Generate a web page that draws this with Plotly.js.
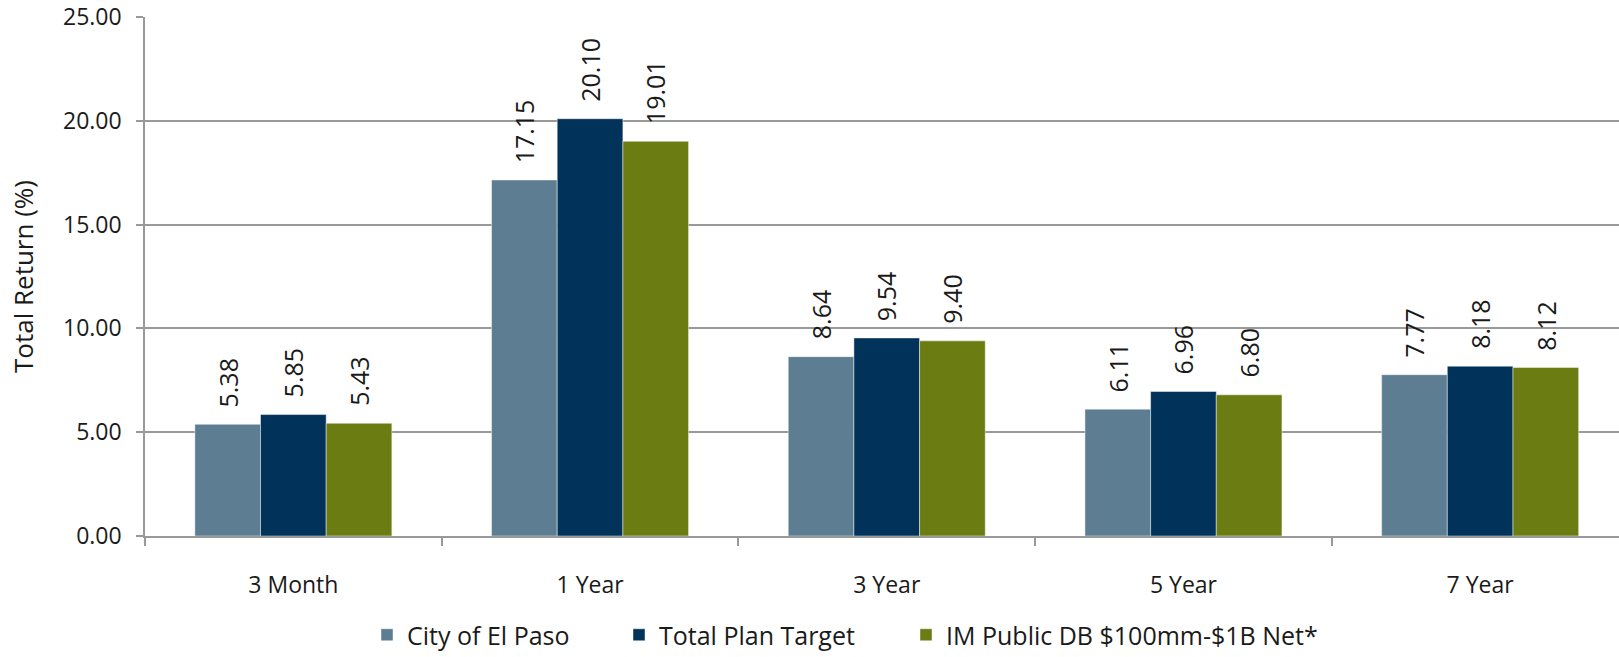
<!DOCTYPE html>
<html>
<head>
<meta charset="utf-8">
<script src="https://cdn.plot.ly/plotly-3.0.1.min.js"></script>
<style>
  html, body { margin: 0; padding: 0; background: #ffffff; }
  #chart { width: 1619px; height: 657px; }
</style>
</head>
<body>
<div id="chart"></div>
<script>
const categories = ['3 Month', '1 Year', '3 Year', '5 Year', '7 Year'];
const seriesNames = ['City of El Paso', 'Total Plan Target', 'IM Public DB $100mm-$1B Net*'];
const cityElPaso = [5.38, 17.15, 8.64, 6.11, 7.77];
const totalPlanTarget = [5.85, 20.10, 9.54, 6.96, 8.18];
const imPublicDB = [5.43, 19.01, 9.40, 6.80, 8.12];
const yTickValues = [0, 5, 10, 15, 20, 25];

const seriesValues = [cityElPaso, totalPlanTarget, imPublicDB];
const colors = ['#5D7E92', '#00325A', '#6B7C13'];
const legendIds = ['legend', 'legend2', 'legend3'];
const legendX = [381, 633, 920];

const FONT = 'Open Sans, Lato, sans-serif';
const TXT = '#1a1a1a';
const bargap = 0.336;
const barW = (1 - bargap) / 3;

const traces = seriesValues.map((vals, i) => ({
  type: 'bar',
  name: seriesNames[i],
  x: categories,
  y: vals,
  marker: { color: colors[i], line: { color: 'rgba(255,255,255,0.45)', width: 1 } },
  legend: legendIds[i],
  hoverinfo: 'x+y+name'
}));

const annotations = [];
seriesValues.forEach((vals, i) => {
  vals.forEach((v, j) => {
    annotations.push({
      x: j + (i - 1) * barW,
      y: v,
      xref: 'x', yref: 'y',
      text: v.toFixed(2),
      textangle: -90,
      showarrow: false,
      xanchor: 'center',
      yanchor: 'bottom',
      yshift: 15,
      font: { family: FONT, size: 25, color: TXT }
    });
  });
});

const legendBase = {
  orientation: 'h',
  xref: 'container', yref: 'container',
  yanchor: 'middle', xanchor: 'left',
  y: 1 - 635 / 657,
  font: { family: FONT, size: 25, color: TXT },
  bgcolor: 'rgba(0,0,0,0)',
  borderwidth: 0,
  itemwidth: 30
};

const layout = {
  width: 1619,
  height: 657,
  margin: { l: 145, r: 0, t: 17, b: 121 },
  paper_bgcolor: '#ffffff',
  plot_bgcolor: '#ffffff',
  barmode: 'group',
  bargap: bargap,
  bargroupgap: 0,
  font: { family: FONT, color: TXT },
  xaxis: {
    type: 'category',
    range: [-0.5, 4.468],
    showline: true,
    linecolor: '#999999',
    linewidth: 1.5,
    ticks: 'outside',
    ticklen: 8,
    tickcolor: '#999999',
    tickwidth: 1.5,
    tickson: 'boundaries',
    showgrid: false,
    ticklabelstandoff: 28,
    tickfont: { family: FONT, size: 23, color: TXT }
  },
  yaxis: {
    range: [0, 25],
    tickvals: yTickValues,
    tickformat: '.2f',
    showline: true,
    linecolor: '#999999',
    linewidth: 1.5,
    ticks: 'outside',
    ticklen: 7,
    tickcolor: '#999999',
    tickwidth: 1.5,
    showgrid: true,
    gridcolor: '#999999',
    gridwidth: 1.5,
    zeroline: false,
    ticklabelstandoff: 10,
    automargin: true,
    tickfont: { family: FONT, size: 23, color: TXT },
    title: { text: 'Total Return (%)', standoff: 22, font: { family: FONT, size: 26, color: TXT } }
  },
  showlegend: true,
  annotations: annotations
};
legendIds.forEach((id, i) => {
  layout[id] = Object.assign({}, legendBase, { x: (legendX[i] - 14) / 1619 });
});

Plotly.newPlot('chart', traces, layout, { displayModeBar: false, responsive: false });
</script>
</body>
</html>
